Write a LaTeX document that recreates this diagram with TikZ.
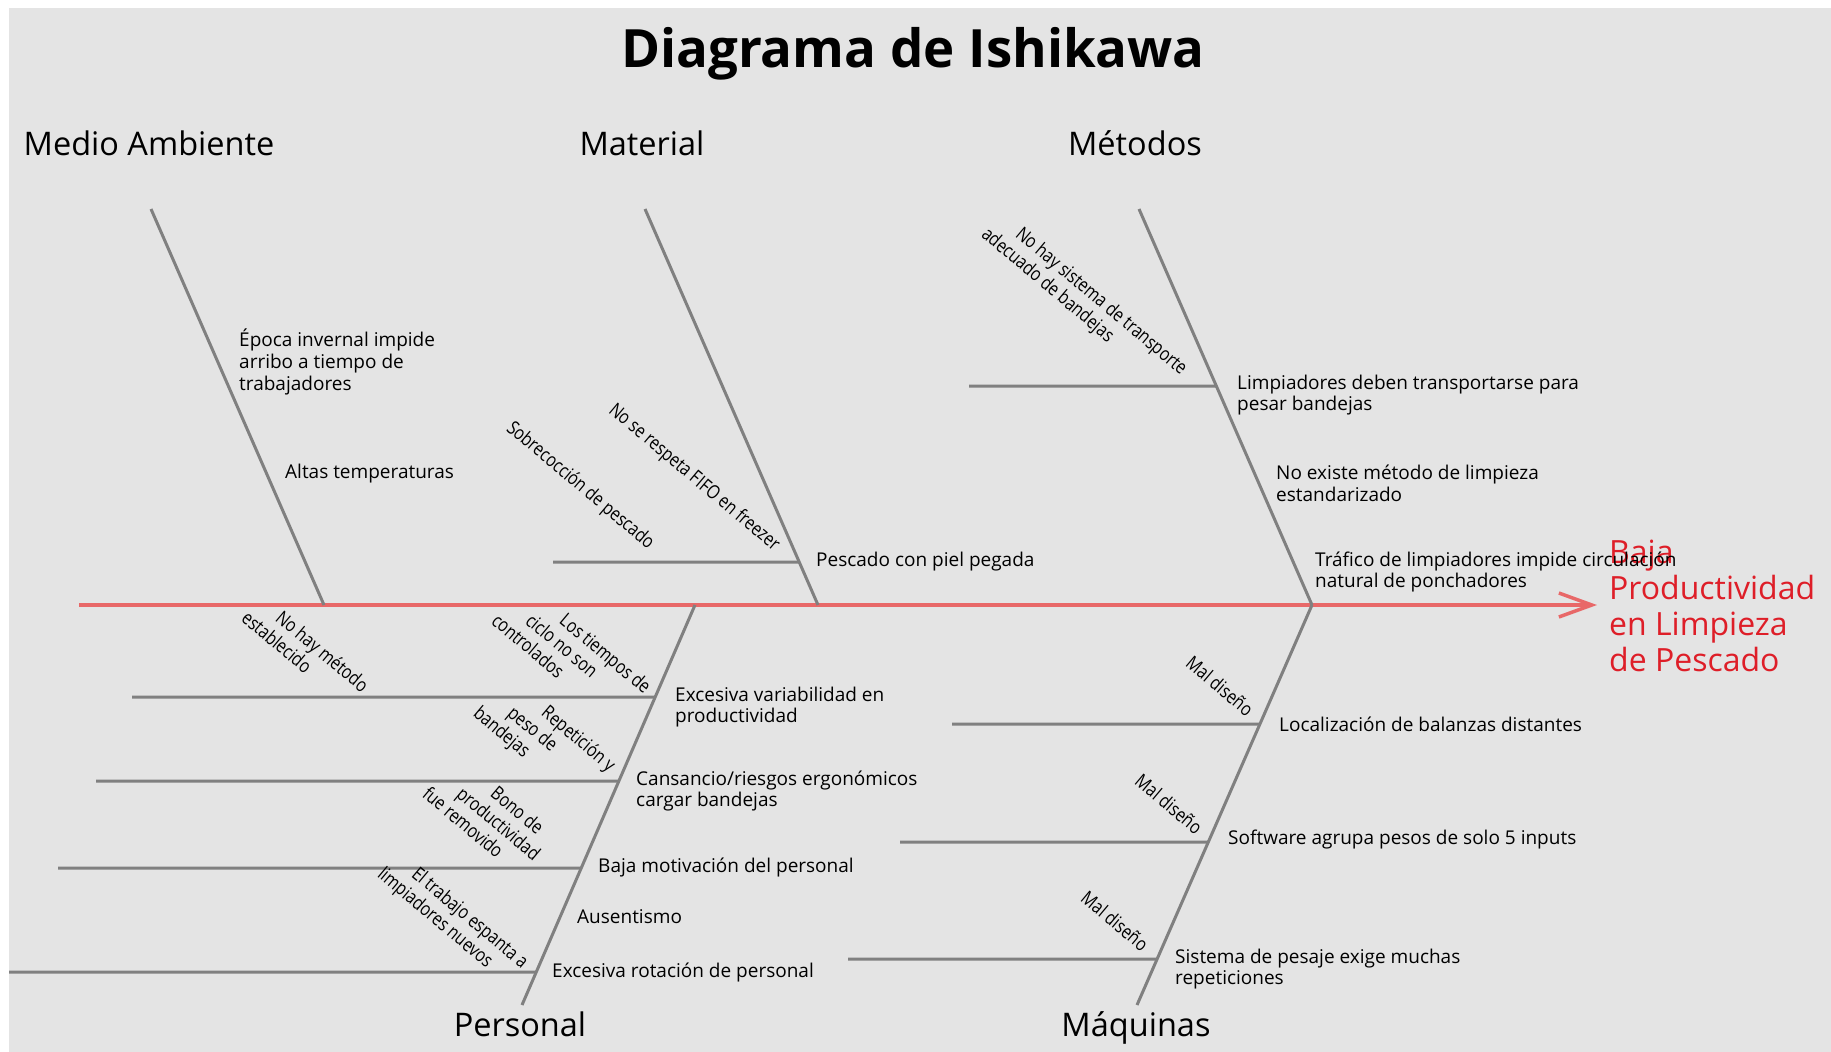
\documentclass[tikz,border=0pt]{standalone}
\usepackage{fontspec}
\setmainfont{Open Sans}
\newfontfamily\condfont[FakeStretch=0.82]{Open Sans}
\usetikzlibrary{arrows.meta,calc}
\definecolor{bg}{RGB}{228,228,228}
\definecolor{bonecol}{RGB}{128,128,128}
\definecolor{spinecol}{RGB}{232,104,104}
\definecolor{effcol}{RGB}{222,30,40}
\begin{document}
\begin{tikzpicture}[x=1pt,y=-1pt,
  bone/.style={draw=bonecol, line width=3pt},
  spine/.style={draw=spinecol, line width=3.5pt, -{Straight Barb[length=33pt,width=24pt]}},
  lbl/.style={font=\fontsize{19}{21.7}\selectfont, align=left, anchor=west, inner sep=0pt, text=black},
  rot/.style={font=\condfont\fontsize{19.2}{22}\selectfont, align=left, rotate=-40, inner sep=0pt},
  cat/.style={font=\fontsize{32.5}{36}\selectfont, anchor=base, inner sep=0pt},
  ttl/.style={font=\bfseries\fontsize{52.8}{60}\selectfont, anchor=base, inner sep=0pt},
  eff/.style={font=\fontsize{32}{36}\selectfont, text=effcol, align=left, anchor=west, inner sep=0pt}]
\useasboundingbox (0,0) rectangle (1831,1052);
\fill[white] (0,0) rectangle (1831,1052);
\fill[bg] (9,8) rectangle (1831,1052);

% title and categories
\node[ttl] (title) at (913,67) {Diagrama de Ishikawa};
\node[cat] (cMA) at (149,155) {Medio Ambiente};
\node[cat] (cMT) at (642,155) {Material};
\node[cat] (cME) at (1135,155) {Métodos};
\node[cat] (cPE) at (520,1036) {Personal};
\node[cat] (cMQ) at (1136,1036) {Máquinas};

% spine and effect
\coordinate (tail) at (79,605);
\coordinate (tip) at (1597,605);
\node[eff] (effect) at (1609,606) {Baja\\Productividad\\en Limpieza\\de Pescado};
\draw[spine] (tail) -- (tip);

% main bones
\coordinate (MAt) at (151,209); \coordinate (MAb) at (324,605);
\coordinate (MTt) at (645,209); \coordinate (MTb) at (818,605);
\coordinate (MEt) at (1139,209); \coordinate (MEb) at (1312,605);
\coordinate (PEt) at (695,605); \coordinate (PEb) at (522,1005);
\coordinate (MQt) at (1312,605); \coordinate (MQb) at (1137,1005);
\draw[bone] (MAt) -- (MAb);
\draw[bone] (MTt) -- (MTb);
\draw[bone] (MEt) -- (MEb);
\draw[bone] (PEt) -- (PEb);
\draw[bone] (MQt) -- (MQb);

% sub-bones
\coordinate (mt1) at ($(MTt)!0.8914!(MTb)$); \coordinate (mt1s) at (553,562);
\coordinate (me1) at ($(MEt)!0.447!(MEb)$); \coordinate (me1s) at (969,386);
\coordinate (pe1) at ($(PEt)!0.23!(PEb)$); \coordinate (pe1s) at (132,697);
\coordinate (pe2) at ($(PEt)!0.44!(PEb)$); \coordinate (pe2s) at (96,781);
\coordinate (pe3) at ($(PEt)!0.6575!(PEb)$); \coordinate (pe3s) at (58,868);
\coordinate (pe4) at ($(PEt)!0.9175!(PEb)$); \coordinate (pe4s) at (9,972);
\coordinate (mq1) at ($(MQt)!0.2975!(MQb)$); \coordinate (mq1s) at (952,724);
\coordinate (mq2) at ($(MQt)!0.5925!(MQb)$); \coordinate (mq2s) at (900,842);
\coordinate (mq3) at ($(MQt)!0.885!(MQb)$); \coordinate (mq3s) at (848,959);
\foreach \s in {mt1,me1,pe1,pe2,pe3,pe4,mq1,mq2,mq3}{\draw[bone] (\s s) -- (\s);}

% labels
\node[lbl] (lMA1) at (239,362) {Época invernal impide\\arribo a tiempo de\\trabajadores};
\node[lbl] (lMA2) at (285,474) {Altas temperaturas};
\node[lbl] (lMT1) at (816,562) {Pescado con piel pegada};
\node[lbl] (lME1) at (1237,395) {Limpiadores deben transportarse para\\pesar bandejas};
\node[lbl] (lME2) at (1276,483) {No existe método de limpieza\\estandarizado};
\node[lbl] (lME3) at (1315,572) {Tráfico de limpiadores impide circulación\\natural de ponchadores};
\node[lbl] (lPE1) at (675,707) {Excesiva variabilidad en\\productividad};
\node[lbl] (lPE2) at (636,791) {Cansancio/riesgos ergonómicos\\cargar bandejas};
\node[lbl] (lPE3) at (598,867) {Baja motivación del personal};
\node[lbl] (lPE4) at (577,917) {Ausentismo};
\node[lbl] (lPE5) at (552,972) {Excesiva rotación de personal};
\node[lbl] (lMQ1) at (1279,724) {Localización de balanzas distantes};
\node[lbl] (lMQ2) at (1228,840) {Software agrupa pesos de solo 5 inputs};
\node[lbl] (lMQ3) at (1175,969) {Sistema de pesaje exige muchas\\repeticiones};

% rotated sub-causes
\node[rot, anchor=center] (r1) at (580,486) {Sobrecocción de pescado};
\node[rot, anchor=center] (r2) at (694,478) {No se respeta FIFO en freezer};
\node[rot, anchor=north west] (r3) at (1004,208) {\hspace*{26pt}No hay sistema de transporte\\adecuado de bandejas};
\node[rot, anchor=north west] (r4) at (264,592) {\hspace*{26pt}No hay método\\establecido};
\node[rot, anchor=north west] (r5) at (528,578) {\hspace*{52pt}Los tiempos de\\\hspace*{26pt}ciclo no son\\controlados};
\node[rot, anchor=north west] (r6) at (510,670) {\hspace*{52pt}Repetición y\\\hspace*{26pt}peso de\\bandejas};
\node[rot, anchor=north west] (r7) at (459,751) {\hspace*{52pt}Bono de\\\hspace*{26pt}productividad\\fue removido};
\node[rot, anchor=north west] (r8) at (400,848) {\hspace*{26pt}El trabajo espanta a\\limpiadores nuevos};
\node[rot, anchor=center] (r9) at (1220,686) {Mal diseño};
\node[rot, anchor=center] (r10) at (1169,804) {Mal diseño};
\node[rot, anchor=center] (r11) at (1115,921) {Mal diseño};
\end{tikzpicture}
\end{document}
